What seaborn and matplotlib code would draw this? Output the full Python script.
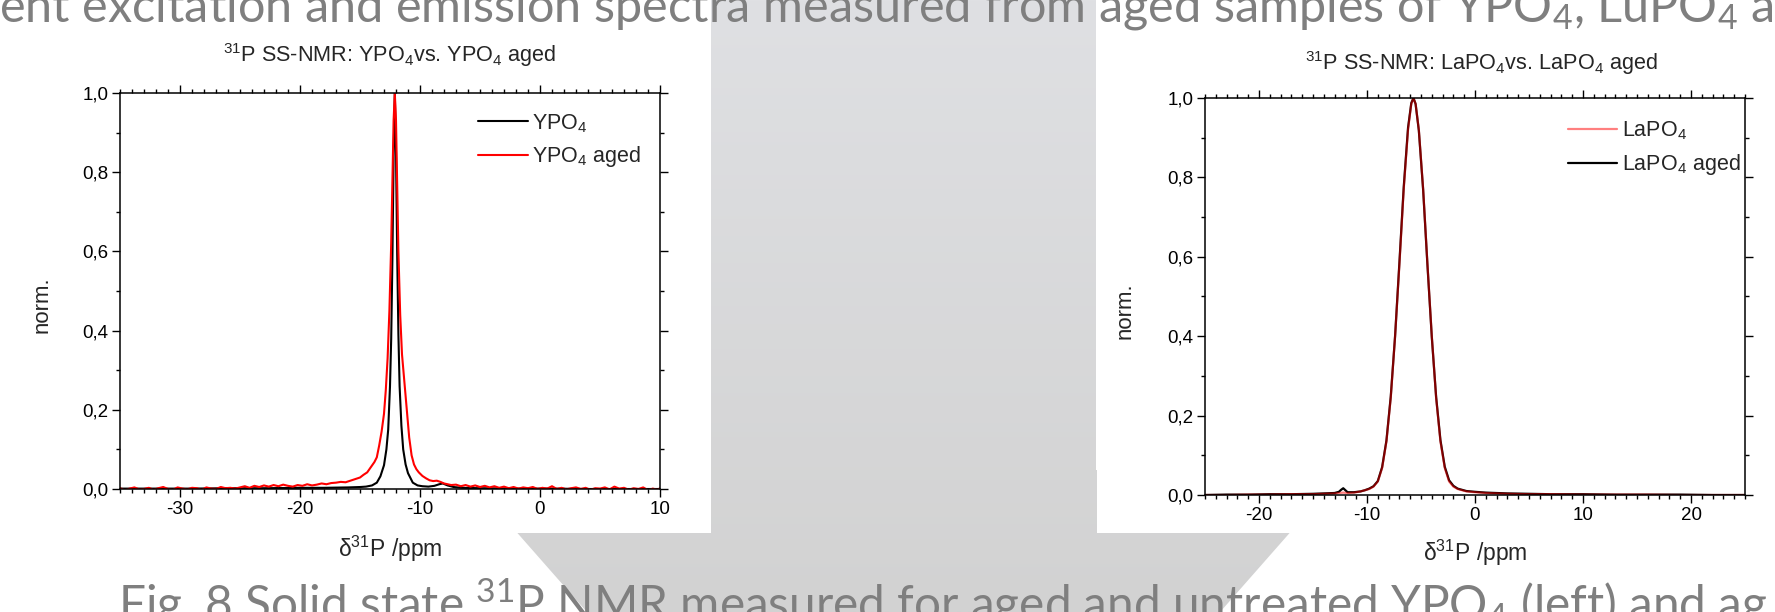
import matplotlib.pyplot as plt
import matplotlib.ticker as mticker
import numpy as np
import seaborn as sns
from matplotlib.colors import LinearSegmentedColormap
from matplotlib.patches import Polygon, Rectangle

# ---- slide texts ----
top_text = "ent excitation and emission spectra measured from aged samples of YPO$_4$, LuPO$_4$ a"
caption = "Fig. 8 Solid state $^{31}$P NMR measured for aged and untreated YPO$_4$ (left) and ag"

# ---- left chart: YPO4 vs YPO4 aged ----
title_left = "$^{31}$P SS-NMR: YPO$_4$vs. YPO$_4$ aged"
ypo4_ppm = [-35, -32, -29, -26, -23, -20, -18, -16, -15, -14.5, -14, -13.6, -13.3, -13.0,
            -12.8, -12.65, -12.5, -12.4, -12.3, -12.2, -12.1, -12.0, -11.9, -11.8, -11.7,
            -11.55, -11.4, -11.2, -11.0, -10.6, -10.2, -9.8, -9.3, -8.8, -8.4, -8.1, -7.7,
            -7.2, -6.5, -5, -2, 1, 4, 7, 10]
ypo4_int = [0.001, 0.001, 0.001, 0.002, 0.002, 0.003, 0.003, 0.004, 0.005, 0.006, 0.009,
            0.016, 0.032, 0.060, 0.10, 0.15, 0.26, 0.38, 0.58, 0.84, 1.0, 0.85, 0.59, 0.39,
            0.26, 0.16, 0.10, 0.062, 0.040, 0.016, 0.009, 0.007, 0.006, 0.008, 0.012, 0.014,
            0.009, 0.005, 0.003, 0.002, 0.001, 0.001, 0.0, 0.0, 0.0]

ypo4_aged_ppm = [-35.0, -34.6, -34.2, -33.8, -33.4, -33.0, -32.6, -32.2, -31.8, -31.4, -31.0,
                 -30.6, -30.2, -29.8, -29.4, -29.0, -28.6, -28.2, -27.8, -27.4, -27.0, -26.6,
                 -26.2, -25.8, -25.4, -25.0, -24.6, -24.2, -23.8, -23.4, -23.0, -22.6, -22.2,
                 -21.8, -21.4, -21.0, -20.6, -20.2, -19.8, -19.4, -19.0, -18.6, -18.2, -17.8,
                 -17.4, -17.0, -16.6, -16.2, -15.8, -15.4, -15.0, -14.7, -14.4, -14.1, -13.8,
                 -13.6, -13.4, -13.2, -13.0, -12.85, -12.7, -12.55, -12.4, -12.3, -12.2, -12.1,
                 -12.0, -11.9, -11.8, -11.65, -11.5, -11.3, -11.1, -10.9, -10.7, -10.5, -10.3,
                 -10.1, -9.8, -9.5, -9.2, -8.9, -8.6, -8.3, -8.0, -7.7, -7.4, -7.0, -6.6, -6.2,
                 -5.8, -5.4, -5.0, -4.6, -4.2, -3.8, -3.4, -3.0, -2.6, -2.2, -1.8, -1.4, -1.0,
                 -0.6, -0.2, 0.2, 0.6, 1.0, 1.4, 1.8, 2.2, 2.6, 3.0, 3.4, 3.8, 4.2, 4.6, 5.0,
                 5.4, 5.8, 6.2, 6.6, 7.0, 7.4, 7.8, 8.2, 8.6, 9.0, 9.4, 9.8, 10.0]
ypo4_aged_int = [0.002, -0.003, 0.001, 0.004, -0.001, 0.000, 0.003, -0.002, 0.002, 0.005, 0.000,
                 -0.002, 0.004, 0.001, -0.001, 0.003, 0.002, -0.002, 0.004, 0.001, 0.000, 0.005,
                 0.002, 0.003, 0.001, 0.004, 0.007, 0.003, 0.008, 0.005, 0.009, 0.006, 0.010,
                 0.007, 0.011, 0.008, 0.006, 0.010, 0.008, 0.012, 0.009, 0.011, 0.014, 0.012,
                 0.015, 0.016, 0.018, 0.017, 0.021, 0.025, 0.029, 0.036, 0.042, 0.055, 0.068,
                 0.080, 0.110, 0.145, 0.19, 0.25, 0.33, 0.45, 0.62, 0.78, 0.93, 1.0,
                 0.93, 0.77, 0.60, 0.44, 0.34, 0.27, 0.20, 0.13, 0.085, 0.062, 0.050,
                 0.042, 0.033, 0.027, 0.022, 0.020, 0.021, 0.018, 0.014, 0.012, 0.010, 0.011,
                 0.007, 0.010, 0.006, 0.009, 0.005, 0.008, 0.004, 0.007, 0.003, 0.006, 0.002,
                 0.005, 0.001, 0.004, 0.002, 0.005, 0.000, 0.003, 0.001, 0.007, 0.000, 0.003,
                 -0.001, 0.002, 0.004, 0.000, 0.003, -0.002, 0.002, 0.001, 0.004, -0.001, 0.006,
                 0.001, 0.003, -0.002, 0.002, 0.000, 0.004, -0.003, 0.001, -0.002, 0.002]

# ---- right chart: LaPO4 vs LaPO4 aged ----
title_right = "$^{31}$P SS-NMR: LaPO$_4$vs. LaPO$_4$ aged"
lapo4_ppm = [-25, -23, -21, -19, -17, -15, -14, -13, -12.6, -12.2, -11.8, -11.2, -10.6, -10.2,
             -9.8, -9.4, -9.0, -8.6, -8.2, -7.8, -7.4, -7.0, -6.6, -6.2, -5.9, -5.7, -5.5,
             -5.2, -4.8, -4.4, -4.0, -3.6, -3.2, -2.8, -2.4, -2.0, -1.6, -1.2, -0.8, -0.4, 0,
             1, 2, 3, 5, 7, 10, 13, 16, 19, 22, 25]
lapo4_int = [0.000, 0.000, 0.001, 0.001, 0.002, 0.002, 0.003, 0.004, 0.005, 0.006, 0.005,
             0.006, 0.009, 0.012, 0.015, 0.021, 0.034, 0.068, 0.135, 0.245, 0.40, 0.58, 0.77,
             0.92, 0.985, 1.0, 0.985, 0.92, 0.77, 0.58, 0.40, 0.245, 0.135, 0.068, 0.034,
             0.021, 0.015, 0.012, 0.009, 0.008, 0.007, 0.005, 0.004, 0.003, 0.002, 0.002,
             0.001, 0.001, 0.001, 0.000, 0.000, 0.000]
lapo4_aged_ppm = [-25, -23, -21, -19, -17, -15, -14, -13, -12.6, -12.4, -12.2, -12.0, -11.8,
                  -11.2, -10.6, -10.2, -9.8, -9.4, -9.0, -8.6, -8.2, -7.8, -7.4, -7.0, -6.6,
                  -6.2, -5.9, -5.7, -5.5, -5.2, -4.8, -4.4, -4.0, -3.6, -3.2, -2.8, -2.4, -2.0,
                  -1.6, -1.2, -0.8, -0.4, 0, 1, 2, 3, 5, 7, 10, 13, 16, 19, 22, 25]
lapo4_aged_int = [0.000, 0.001, 0.001, 0.002, 0.002, 0.003, 0.004, 0.005, 0.008, 0.013, 0.017,
                  0.012, 0.007, 0.007, 0.009, 0.012, 0.016, 0.022, 0.035, 0.07, 0.137, 0.248,
                  0.40, 0.585, 0.775, 0.925, 0.987, 1.0, 0.985, 0.918, 0.768, 0.578, 0.398,
                  0.247, 0.138, 0.071, 0.037, 0.023, 0.016, 0.013, 0.010, 0.009, 0.008, 0.006,
                  0.005, 0.004, 0.003, 0.002, 0.002, 0.001, 0.001, 0.001, 0.000, 0.000]

sns.set_style("ticks")
plt.rcParams["font.family"] = ["Liberation Sans", "DejaVu Sans"]
plt.rcParams["mathtext.default"] = "regular"
plt.rcParams["axes.unicode_minus"] = False

W, H = 1775, 612
fig = plt.figure(figsize=(W / 100, H / 100), dpi=100)

# ---- slide background: grey block arrow behind the two chart images ----
bg = fig.add_axes([0, 0, 1, 1], zorder=0)
arrow = Polygon([(711, -5), (1096, -5), (1096, 470), (1345, 470), (903.5, 972),
                 (462, 470), (711, 470)], closed=True, fc="none", ec="none")
bg.add_patch(arrow)
grad = np.linspace(0, 1, 256).reshape(-1, 1)
cmap = LinearSegmentedColormap.from_list("arrow", ["#dfe0e3", "#d2d2d2"])
im = bg.imshow(grad, cmap=cmap, extent=[440, 1360, 612, 0], aspect="auto", zorder=1)
im.set_clip_path(arrow)
bg.add_patch(Rectangle((-5, -5), 716, 538, fc="white", ec="none", zorder=2))
bg.add_patch(Rectangle((1097, -5), 690, 538, fc="white", ec="none", zorder=2))
bg.set_xlim(0, W)
bg.set_ylim(H, 0)
bg.axis("off")

slide_font = ["Lato", "DejaVu Sans"]
bg.text(-1, 22, top_text, fontsize=35, family=slide_font, color="#7f7f7f",
        ha="left", va="baseline", zorder=5)
bg.text(118, 620, caption, fontsize=34.4, family=slide_font, color="#7f7f7f",
        ha="left", va="baseline", zorder=5)

# ---- the two NMR charts ----
ax1 = fig.add_axes([120 / W, 1 - 489 / H, 540 / W, 396 / H], zorder=2)
ax2 = fig.add_axes([1205 / W, 1 - 495 / H, 540 / W, 397 / H], zorder=2)

sns.lineplot(x=ypo4_ppm, y=ypo4_int, ax=ax1, color="black", lw=1.5,
             label="YPO$_4$", estimator=None, sort=False)
sns.lineplot(x=ypo4_aged_ppm, y=ypo4_aged_int, ax=ax1, color="red", lw=1.5,
             label="YPO$_4$ aged", estimator=None, sort=False)

sns.lineplot(x=lapo4_aged_ppm, y=lapo4_aged_int, ax=ax2, color="black", lw=1.6,
             label="LaPO$_4$ aged", estimator=None, sort=False)
sns.lineplot(x=lapo4_ppm, y=lapo4_int, ax=ax2, color="red", lw=1.6, alpha=0.5,
             label="LaPO$_4$", estimator=None, sort=False)

comma = mticker.FuncFormatter(lambda v, p: f"{v:.1f}".replace(".", ","))
for ax, xlim in ((ax1, (-35, 10)), (ax2, (-25, 25))):
    ax.set_xlim(*xlim)
    ax.set_ylim(0, 1.0)
    ax.xaxis.set_major_locator(mticker.MultipleLocator(10))
    ax.xaxis.set_minor_locator(mticker.MultipleLocator(1))
    ax.yaxis.set_major_locator(mticker.MultipleLocator(0.2))
    ax.yaxis.set_minor_locator(mticker.MultipleLocator(0.1))
    ax.yaxis.set_major_formatter(comma)
    ax.xaxis.set_major_formatter(mticker.FormatStrFormatter("%d"))
    ax.tick_params(which="both", direction="out", top=True, right=True, width=1.0,
                   colors="black", labelsize=13.5)
    ax.tick_params(which="major", length=5.5, pad=3)
    ax.tick_params(which="minor", length=3)
    for sp in ax.spines.values():
        sp.set_linewidth(1.1)
        sp.set_color("black")
    ax.set_facecolor("white")
    ax.set_xlabel("δ$^{31}$P /ppm", fontsize=16.5)
    ax.set_ylabel("norm.", fontsize=16)

ax1.xaxis.set_label_coords(0.5, -0.112)
ax2.xaxis.set_label_coords(0.5, -0.108)
ax1.yaxis.set_label_coords(-0.125, 0.465)
ax2.yaxis.set_label_coords(-0.128, 0.465)

ax1.text(0.5, 1.096, title_left, transform=ax1.transAxes, ha="center", va="center",
         fontsize=15.6)
ax2.text(0.512, 1.088, title_right, transform=ax2.transAxes, ha="center", va="center",
         fontsize=15.6)

ax1.legend(loc="upper left", bbox_to_anchor=(0.663, 0.952), frameon=False, fontsize=15.5,
           handlelength=2.3, handletextpad=0.2, borderpad=0, borderaxespad=0,
           labelspacing=0.45)
h, l = ax2.get_legend_handles_labels()
ax2.legend(h[::-1], l[::-1], loc="upper left", bbox_to_anchor=(0.672, 0.945),
           frameon=False, fontsize=15.5, handlelength=2.3, handletextpad=0.2,
           borderpad=0, borderaxespad=0, labelspacing=0.45)

fig.savefig("out.png", dpi=100)
